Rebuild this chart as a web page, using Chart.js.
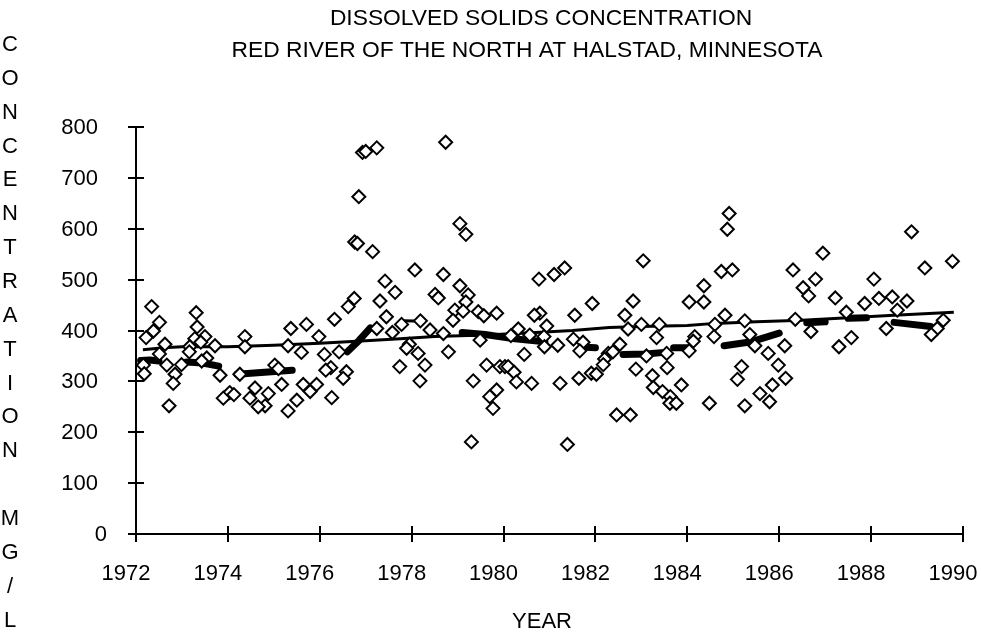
<!DOCTYPE html>
<html>
<head>
<meta charset="utf-8">
<script src="https://cdn.jsdelivr.net/npm/chart.js@4/dist/chart.umd.min.js"></script>
<style>
html,body{margin:0;padding:0;background:#fff;}
#wrap{position:relative;width:981px;height:635px;}
</style>
</head>
<body>
<div id="wrap"><canvas id="c" width="981" height="635"></canvas></div>
<script>
// ---------- text ----------
const titleLine1 = "DISSOLVED SOLIDS CONCENTRATION";
const titleLine2 = "RED RIVER OF THE NORTH AT HALSTAD, MINNESOTA";
const yAxisTitle = "CONCENTRATION MG/L";
const xAxisTitle = "YEAR";

// ---------- ticks ----------
const xTickLabels = [1972, 1974, 1976, 1978, 1980, 1982, 1984, 1986, 1988, 1990];
const yTickLabels = [0, 100, 200, 300, 400, 500, 600, 700, 800];

// ---------- samples (decimal year, mg/L) ----------
const sampleYears = [
  1972.34,1972.51,1972.38,1972.22,1972.63,1972.51,1972.16,1972.18,1972.67,1972.85,1972.99,1972.81,1972.72,
  1973.31,1973.33,1973.50,1973.28,1973.41,1973.72,1973.17,1973.54,1973.43,1973.16,1973.83,1974.04,1973.90,1974.13,
  1974.37,1974.37,1974.26,1974.59,1974.48,1974.88,1974.81,1974.66,
  1975.37,1975.71,1975.98,1975.31,1975.60,1975.02,1975.10,1975.17,1975.64,1975.93,1975.79,1975.50,1975.31,
  1976.85,1976.76,1976.82,1976.75,1976.62,1976.32,1976.10,1976.42,1976.24,1976.13,1976.58,1976.51,1976.26,
  1976.93,1977.00,1977.24,1977.15,1977.42,1977.64,1977.31,1977.45,1977.24,1977.78,1977.58,1977.95,1977.89,1977.74,
  1978.74,1978.07,1978.69,1978.51,1978.58,1978.94,1978.90,1978.19,1978.40,1978.69,1978.14,1978.29,1978.80,1978.18,
  1979.05,1979.18,1979.05,1979.23,1979.18,1979.12,1979.45,1979.57,1979.49,1979.34,1979.30,1979.63,1979.92,1979.85,1979.85,1979.70,1979.77,
  1980.77,1980.79,1980.67,1980.94,1980.32,1980.16,1980.57,1980.88,1980.89,1980.45,1980.03,1980.10,1980.23,1980.28,1980.61,
  1981.10,1981.33,1981.55,1981.93,1981.52,1981.73,1981.18,1981.66,1981.23,1981.64,1981.91,1981.39,
  1982.28,1982.20,1982.02,1982.17,1982.82,1982.64,1982.71,1982.38,1982.53,1982.88,1982.46,1982.76,
  1983.04,1983.00,1983.39,1983.33,1983.11,1983.55,1983.56,1983.24,1983.26,1983.46,1983.63,1983.62,1983.76,1983.87,
  1984.91,1984.87,1984.74,1984.98,1984.36,1984.04,1984.36,1984.82,1984.60,1984.16,1984.58,1984.13,1984.04,1984.48,
  1985.25,1985.36,1985.47,1985.76,1985.98,1985.18,1985.09,1985.85,1985.58,1985.79,1985.25,
  1986.95,1986.30,1986.79,1986.52,1986.64,1986.35,1986.69,1986.12,1986.14,
  1987.22,1987.46,1987.57,1987.30,1987.86,
  1988.88,1988.06,1988.17,1988.46,1988.78,1988.57,1988.33,
  1989.77,1989.17,1989.57,1989.44,1989.31
];
const sampleValues = [
  447,416,399,386,373,354,332,315,332,314,333,296,252,
  435,407,388,384,377,370,368,346,340,358,312,278,267,274,
  388,368,314,287,267,276,252,250,
  404,412,388,370,357,332,325,294,294,294,280,263,242,
  663,574,571,463,447,422,353,358,327,322,319,306,268,
  750,752,759,555,497,475,458,427,404,412,396,373,365,329,
  770,519,510,471,464,440,420,419,401,394,355,332,358,301,
  610,589,488,470,456,438,437,429,381,301,181,332,329,434,283,270,247,
  501,434,430,409,403,390,391,388,368,353,329,329,318,299,296,
  510,523,430,453,383,377,371,360,296,306,316,176,
  355,344,314,333,458,430,403,358,373,324,234,234,
  537,412,412,386,350,355,327,311,288,280,270,257,257,293,
  630,599,516,519,488,456,456,430,412,388,388,379,360,257,
  419,392,370,355,332,329,304,293,276,260,252,
  552,519,501,484,468,422,398,370,306,
  464,436,386,368,453,
  594,501,463,466,458,440,404,
  536,523,420,404,392
];

// ---------- long-term trend (thin line) ----------
const trendYears  = [1972.15,1972.6,1973.0,1974.0,1975.0,1976.0,1977.0,1977.75,1978.5,1979.6,1980.5,1981.5,1982.3,1983.0,1984.0,1984.6,1985.5,1986.5,1987.5,1988.5,1989.8];
const trendValues = [362,366,368,368,371,375,380,384,388,391,395,400,406,408,410,414,417,420,425,430,436];

// ---------- short annual segments (thick line, null = gap) ----------
const segYears  = [1972.1,1972.3,1972.5,null,1973.1,1973.45,1973.8,null,1974.2,1974.8,1975.4,null,
                   1976.6,1976.85,1977.1,null,1979.1,1979.6,1980.2,1980.9,null,1981.8,1982.0,null,
                   1982.6,1983.1,1983.5,null,1983.7,1984.0,null,1984.8,1985.4,1986.0,null,1986.6,1987.0,null,1987.5,1987.9,null,1988.5,1989.3];
const segValues = [341,342,340,null,338,336,330,null,314,318,322,null,
                   358,380,405,null,396,392,384,378,null,367,366,null,
                   353,354,357,null,366,366,null,370,378,395,null,415,417,null,424,425,null,416,408];

// a short raised piece of the trend around 1978
const bumpYears  = [1977.82, 1978.29];
const bumpValues = [419, 418];

// ---------- style ----------
const FONT = "'Liberation Sans', Arial, sans-serif";
const FS = 22;
const FS_TITLE = 22.8;

function pts(xs, ys) {
  return xs.map((x, i) => (x === null || ys[i] === null) ? {x: null, y: null} : {x: x, y: ys[i]});
}

const decor = {
  id: 'decor',
  afterDraw(chart) {
    const ctx = chart.ctx;
    const xs = chart.scales.x, ys = chart.scales.y;
    const ca = chart.chartArea;
    ctx.save();
    ctx.strokeStyle = '#000';
    ctx.lineWidth = 2;
    // inner halves of crossing tick marks
    ctx.beginPath();
    xTickLabels.forEach(v => {
      const px = Math.round(xs.getPixelForValue(v));
      ctx.moveTo(px, ca.bottom); ctx.lineTo(px, ca.bottom - 8);
    });
    yTickLabels.forEach(v => {
      const py = Math.round(ys.getPixelForValue(v));
      ctx.moveTo(ca.left, py); ctx.lineTo(ca.left + 8, py);
    });
    ctx.stroke();
    ctx.fillStyle = '#000';
    // y tick labels (placed from the y scale)
    ctx.font = FS + 'px ' + FONT;
    ctx.textAlign = 'right';
    ctx.textBaseline = 'middle';
    yTickLabels.forEach(v => {
      const py = ys.getPixelForValue(v);
      ctx.fillText(String(v), v === 0 ? 107 : 98, py + 1);
    });
    // titles
    ctx.textAlign = 'center';
    ctx.font = FS_TITLE + 'px ' + FONT;
    ctx.fillText(titleLine1, 541, 19);
    ctx.fillText(titleLine2, 527, 51);
    ctx.font = FS + 'px ' + FONT;
    ctx.fillText(xAxisTitle, 542, 622);
    // stacked vertical y-axis title
    yAxisTitle.split('').forEach((ch, i) => {
      if (ch !== ' ') ctx.fillText(ch, 10, 45 + i * 33.85);
    });
    ctx.restore();
  }
};

new Chart(document.getElementById('c'), {
  type: 'scatter',
  data: {
    datasets: [
      {
        label: 'Samples',
        data: pts(sampleYears, sampleValues),
        pointStyle: 'rectRot',
        pointRadius: 6.5,
        pointBorderWidth: 2,
        pointBackgroundColor: '#fff',
        pointBorderColor: '#000',
        showLine: false,
        order: 0
      },
      {
        label: 'Trend',
        data: pts(trendYears, trendValues),
        showLine: true,
        borderColor: '#000',
        borderWidth: 3,
        pointRadius: 0,
        tension: 0,
        order: 2
      },
      {
        label: 'Bump',
        data: pts(bumpYears, bumpValues),
        showLine: true,
        borderColor: '#000',
        borderWidth: 3,
        pointRadius: 0,
        order: 2
      },
      {
        label: 'Annual',
        data: pts(segYears, segValues),
        showLine: true,
        spanGaps: false,
        borderColor: '#000',
        borderWidth: 7,
        borderCapStyle: 'round',
        borderJoinStyle: 'round',
        pointRadius: 0,
        order: 1
      }
    ]
  },
  options: {
    responsive: false,
    animation: false,
    devicePixelRatio: 1,
    layout: { padding: { top: 127, right: 18, bottom: 0, left: 0 } },
    plugins: { legend: { display: false }, tooltip: { enabled: false }, title: { display: false } },
    scales: {
      x: {
        type: 'linear',
        min: 1972, max: 1990,
        afterBuildTicks: s => { s.ticks = xTickLabels.map(v => ({ value: v })); },
        afterFit: s => { s.height = 101; s.paddingLeft = 0; s.paddingRight = 0; s.paddingTop = 0; s.paddingBottom = 0; },
        ticks: {
          color: '#000', font: { family: FONT, size: FS },
          padding: 19, labelOffset: -10, maxRotation: 0, autoSkip: false,
          callback: v => String(v)
        },
        grid: { display: true, drawOnChartArea: false, drawTicks: true, tickLength: 8, color: '#000', lineWidth: 2 },
        border: { display: true, color: '#000', width: 2 }
      },
      y: {
        type: 'linear',
        min: 0, max: 800,
        afterBuildTicks: s => { s.ticks = yTickLabels.map(v => ({ value: v })); },
        afterFit: s => { s.width = 136; s.paddingLeft = 0; s.paddingRight = 0; s.paddingTop = 0; s.paddingBottom = 0; },
        ticks: { display: false },
        grid: { display: true, drawOnChartArea: false, drawTicks: true, tickLength: 8, color: '#000', lineWidth: 2 },
        border: { display: true, color: '#000', width: 2 }
      }
    }
  },
  plugins: [decor]
});
</script>
</body>
</html>
